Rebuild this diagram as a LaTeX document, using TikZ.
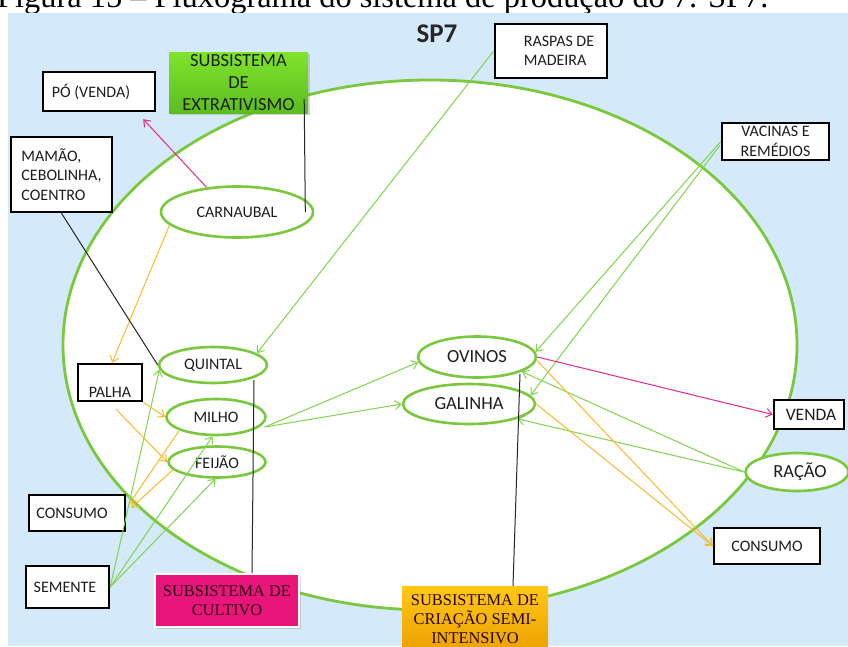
\documentclass[tikz,border=0pt]{standalone}
\usepackage{fontspec}
\setmainfont{Carlito}
\newfontfamily\serifx{Liberation Serif}
\usetikzlibrary{arrows.meta,calc,shapes.geometric,shadows}

\definecolor{bgblue}{RGB}{212,233,250}
\definecolor{ringgreen}{RGB}{122,200,62}
\definecolor{linkgreen}{RGB}{128,212,78}
\definecolor{feedorange}{RGB}{250,186,45}
\definecolor{salepink}{RGB}{232,40,135}
\definecolor{cultmag}{RGB}{232,22,122}
\definecolor{extgreenA}{RGB}{128,228,42}
\definecolor{extgreenB}{RGB}{92,188,34}
\definecolor{criaA}{RGB}{255,200,20}
\definecolor{criaB}{RGB}{236,160,0}
\definecolor{inktext}{RGB}{30,30,30}
\definecolor{darkink}{RGB}{40,5,20}

\begin{document}
\begin{tikzpicture}[x=1pt,y=-1pt,
  font=\fontsize{16}{19.5}\selectfont,
  every node/.style={text=inktext},
  box/.style={draw=black, line width=2.4pt, fill=white, inner sep=0pt, align=center},
  oval/.style={ellipse, draw=ringgreen, line width=2.6pt, fill=white, inner sep=0pt},
  bigtext/.style={font=\fontsize{18.5}{22}\selectfont},
  flow/.style={line width=1pt, -{Straight Barb[length=6pt,width=9pt]}},
  gflow/.style={flow, draw=linkgreen},
  oflow/.style={flow, draw=feedorange},
  pflow/.style={flow, draw=salepink},
  tie/.style={line width=1pt, draw=black!85},
  subsys/.style={inner sep=0pt, align=center, text=darkink,
    font=\serifx\fontsize{16.4}{19}\selectfont},
]
\useasboundingbox (0,0) rectangle (848,646);

% caption line above the panel
\node[anchor=base west, inner sep=0pt, text=black,
  font=\serifx\fontsize{32.4}{36}\selectfont] (caption) at (-3,7.5)
  {Figura 15 – Fluxograma do sistema de produção do 7. SP7.};

% panel and system boundary
\fill[bgblue] (8,13) rectangle (848,646);
\draw[ringgreen, line width=2.8pt, fill=white] (430,345) ellipse [x radius=367, y radius=265];

\node[font=\bfseries\fontsize{27}{30}\selectfont, text=black!85] (sp) at (437,34) {SP7};

% external boxes
\node[box, minimum width=112pt, minimum height=54pt, align=left] (raspas) at (551,51)
  {\hspace*{16pt}RASPAS DE\\\hspace*{16pt}MADEIRA};
\node[box, minimum width=112pt, minimum height=39pt] (po) at (99,91.5) {PÓ (VENDA)\hspace*{16pt}};
\node[box, minimum width=101pt, minimum height=75pt, align=left] (mamao) at (61.5,174.5)
  {MAMÃO,\\CEBOLINHA,\\COENTRO};
\node[box, minimum width=64pt, minimum height=37pt, text height=31pt, text depth=2pt] (palha) at (110,382.5) {PALHA};
\node[box, minimum width=96pt, minimum height=36pt] (consumoL) at (77,513) {CONSUMO\hspace*{10pt}};
\node[box, minimum width=83pt, minimum height=42pt] (semente) at (67.5,587) {SEMENTE\hspace*{5pt}};
\node[box, minimum width=107pt, minimum height=37pt] (vacinas) at (775.5,141.5) {VACINAS E\\REMÉDIOS};
\node[box, minimum width=70pt, minimum height=29pt, font=\fontsize{17.5}{20}\selectfont] (venda) at (809,414.5) {\hspace*{4pt}VENDA};
\node[box, minimum width=106pt, minimum height=36pt] (consumoR) at (767,546) {CONSUMO};

% subsystem labels
\node[inner sep=0pt, align=center, minimum width=139pt, minimum height=61pt,
  top color=extgreenA, bottom color=extgreenB,
  drop shadow={shadow xshift=1.5pt, shadow yshift=-1.5pt, opacity=0.3},
  bigtext] (ext) at (238.5,82.5)
  {SUBSISTEMA\\DE\\EXTRATIVISMO};
\node[subsys, minimum width=144pt, minimum height=53pt, fill=cultmag, draw=white, line width=2pt,
  drop shadow={shadow xshift=1.5pt, shadow yshift=-1.5pt, opacity=0.3}] (cult) at (227,600.5)
  {SUBSISTEMA DE\\CULTIVO};
\node[subsys, minimum width=146pt, minimum height=66pt, top color=criaA, bottom color=criaB] (cria) at (475,619)
  {SUBSISTEMA DE\\CRIAÇÃO SEMI-\\INTENSIVO};

% activities
\node[oval, minimum width=152pt, minimum height=51pt] (carn) at (237,212) {CARNAUBAL};
\node[oval, minimum width=108pt, minimum height=36pt] (quintal) at (213,365) {QUINTAL};
\node[oval, minimum width=99pt, minimum height=36pt] (milho) at (216,417) {MILHO};
\node[oval, minimum width=97pt, minimum height=31pt] (feijao) at (217,462) {FEIJÃO};
\node[oval, bigtext, minimum width=118pt, minimum height=41pt] (ovinos) at (477,357) {OVINOS};
\node[oval, bigtext, minimum width=132pt, minimum height=40pt] (galinha) at (469,404) {GALINHA};
\node[oval, bigtext, minimum width=103pt, minimum height=38pt] (racao) at (797,472) {\hspace*{6pt}RAÇÃO};

% flows
\draw[pflow] (carn.141) -- ($(po.south east)+(-13,7)$);
\draw[oflow] (carn.191) -- ($(palha.north)+(2,0)$);
\draw[gflow] (raspas.west) -- (quintal.15);
\draw[gflow] (semente.east) -- (quintal.185);
\draw[gflow] (semente.east) -- (milho.260);
\draw[gflow] (semente.east) -- (feijao.265);
\draw[oflow] (palha.south east) -- (milho.west);
\draw[oflow] ($(palha.south)+(6,7)$) -- (feijao.west);
\draw[oflow] (milho.200) -- ($(consumoL.north east)+(3,10)$);
\draw[oflow] (feijao.190) -- ($(consumoL.north east)+(5,14)$);
\draw[gflow] ($(milho.east)+(-2,10)$) -- (ovinos.185);
\draw[gflow] ($(milho.east)+(-2,10)$) -- (galinha.west);
\draw[gflow] (vacinas.west) -- (ovinos.5);
\draw[gflow] ($(vacinas.west)+(-1,4)$) -- (galinha.8);
\draw[pflow] (ovinos.east) -- (venda.west);
\draw[gflow] (racao.west) -- (ovinos.-18);
\draw[gflow] (racao.west) -- (galinha.-17);
\draw[oflow] (ovinos.-3) -- (consumoR.west);
\draw[oflow] (galinha.east) -- (consumoR.west);

% subsystem ties
\draw[tie] ($(ext.south east)+(-4,-14)$) -- ($(carn.east)+(-9,0)$);
\draw[tie] (mamao.south) -- (quintal.west);
\draw[tie] ($(quintal.center)+(41,15)$) -- ($(cult.north)+(25,0)$);
\draw[tie] ($(cria.north)+(38,0)$) -- ($(ovinos.center)+(43,17)$);
\end{tikzpicture}
\end{document}
